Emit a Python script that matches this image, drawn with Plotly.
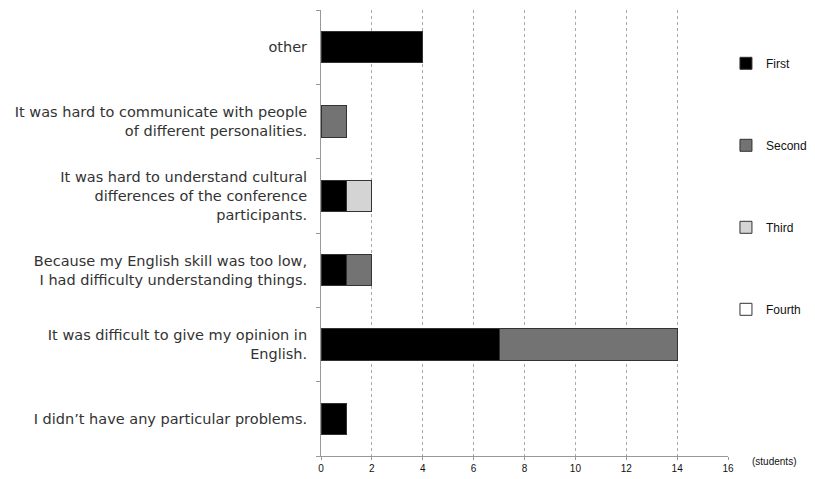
import plotly.graph_objects as go

categories = [
    "I didn’t have any particular problems.",
    "It was difficult to give my opinion in<br>English.",
    "Because my English skill was too low,<br>I had difficulty understanding things.",
    "It was hard to understand cultural<br>differences of the conference<br>participants.",
    "It was hard to communicate with people<br>of different personalities.",
    "other",
]
first = [1, 7, 1, 1, 0, 4]
second = [0, 7, 1, 0, 1, 0]
third = [0, 0, 0, 1, 0, 0]
fourth = [0, 0, 0, 0, 0, 0]

series = [
    ("First", first, "#000000"),
    ("Second", second, "#737373"),
    ("Third", third, "#d4d4d4"),
    ("Fourth", fourth, "#ffffff"),
]

fig = go.Figure()
for name, values, color in series:
    fig.add_trace(
        go.Bar(
            y=categories,
            x=values,
            name=name,
            orientation="h",
            legendgroup=name,
            marker=dict(color=color, line=dict(color="#333333", width=1)),
            width=0.42,
        )
    )

# the page puts the figure 8px in from the top-left corner
fig.update_layout(
    barmode="stack",
    width=807,
    height=471,
    margin=dict(l=313, r=87, t=2, b=23, autoexpand=False),
    plot_bgcolor="white",
    paper_bgcolor="white",
    font=dict(family="DejaVu Sans, sans-serif", color="#333333"),
    legend=dict(
        x=0.995,
        y=0.913,
        xanchor="left",
        yanchor="top",
        traceorder="grouped",
        tracegroupgap=63,
        itemwidth=30,
        font=dict(size=12, family="Arial, sans-serif", color="#111111"),
    ),
    showlegend=True,
)
fig.update_xaxes(
    range=[0, 16],
    dtick=2,
    showgrid=True,
    gridcolor="#aaaaaa",
    griddash="3px,3px",
    gridwidth=1,
    showline=True,
    linecolor="#999999",
    ticks="outside",
    ticklen=3,
    tickcolor="#999999",
    tickfont=dict(size=10, family="Arial, sans-serif", color="#111111"),
    zeroline=False,
)
fig.update_yaxes(
    type="category",
    categoryorder="array",
    categoryarray=categories,
    tickson="boundaries",
    ticks="outside",
    ticklen=4,
    tickcolor="#999999",
    showline=True,
    linecolor="#999999",
    showgrid=False,
    ticklabelstandoff=10,
    tickfont=dict(size=14.5, color="#333333"),
)
fig.add_annotation(
    text="(students)",
    xref="paper",
    yref="paper",
    x=1.113,
    y=-0.013,
    xanchor="center",
    yanchor="middle",
    showarrow=False,
    font=dict(size=10, family="Arial, sans-serif", color="#111111"),
)

fig.write_html("out.html")
